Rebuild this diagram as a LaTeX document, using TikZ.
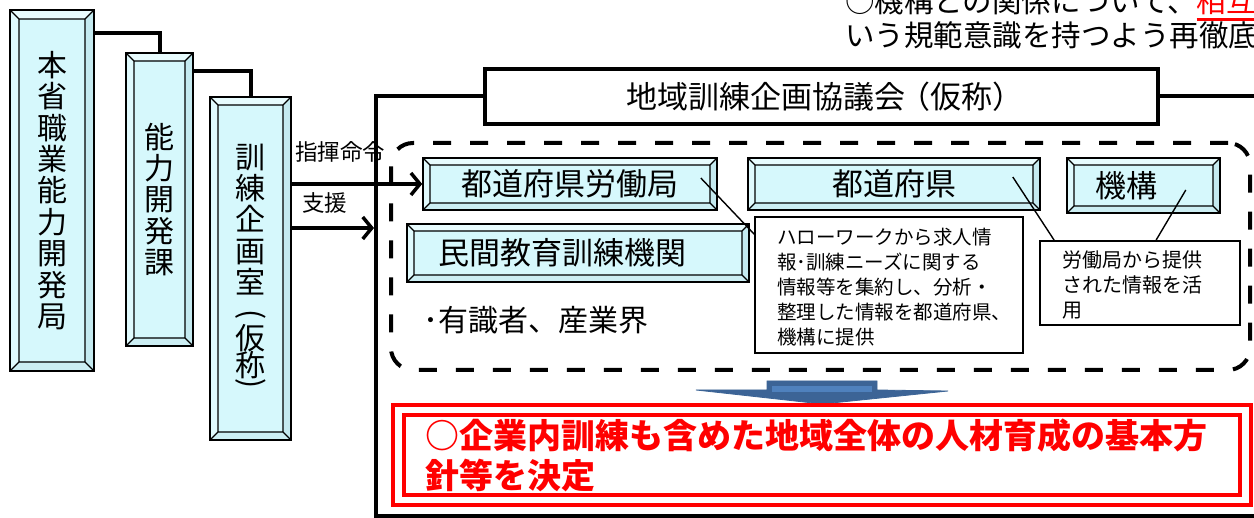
\documentclass[tikz,border=0pt]{standalone}
\usepackage{fontspec}
\setmainfont{Noto Sans CJK JP}
\usetikzlibrary{arrows.meta,calc}
\definecolor{cyanA}{RGB}{214,248,252}
\definecolor{cyanT}{RGB}{232,252,254}
\definecolor{cyanL}{RGB}{224,250,253}
\definecolor{cyanR}{RGB}{196,234,240}
\definecolor{cyanBt}{RGB}{204,238,243}
\definecolor{arrowdark}{RGB}{60,100,150}
\definecolor{arrowlight}{RGB}{79,129,189}
\newlength\ulwd
\newcommand\myul[1]{\settowidth\ulwd{#1}\rlap{\rule[-8.5pt]{\ulwd}{2.8pt}}#1}
\newcommand\vparen[1]{\rotatebox[origin=c]{-90}{#1}}
\tikzset{
  bevelbox/.style={draw=black, line width=1.6pt, fill=cyanA, inner sep=0pt,
    path picture={
      \path (path picture bounding box.north west) coordinate (bva)
            (path picture bounding box.north east) coordinate (bvb)
            (path picture bounding box.south east) coordinate (bvc)
            (path picture bounding box.south west) coordinate (bvd);
      \path ([shift={(#1,-#1)}]bva) coordinate (bvA)
            ([shift={(-#1,-#1)}]bvb) coordinate (bvB)
            ([shift={(-#1,#1)}]bvc) coordinate (bvC)
            ([shift={(#1,#1)}]bvd) coordinate (bvD);
      \fill[cyanT] (bva)--(bvb)--(bvB)--(bvA)--cycle;
      \fill[cyanR] (bvb)--(bvc)--(bvC)--(bvB)--cycle;
      \fill[cyanBt] (bvc)--(bvd)--(bvD)--(bvC)--cycle;
      \fill[cyanL] (bvd)--(bva)--(bvA)--(bvD)--cycle;
      \draw[line width=1.2pt] (bvA) rectangle (bvC) (bva)--(bvA) (bvb)--(bvB) (bvc)--(bvC) (bvd)--(bvD);
    }},
  vlabel/.style={font=\fontsize{30}{31.4}\selectfont, align=center},
  hlabel/.style={font=\fontsize{31}{36}\selectfont},
  txt/.style={inner sep=0pt, align=left},
  infobox/.style={draw=black, line width=1.8pt, fill=white, inner sep=0pt},
  conn/.style={draw=black, line width=4pt},
  callout/.style={draw=black, line width=1.4pt},
  bigarrow/.style={line width=4pt, -{Straight Barb[length=9pt,width=22pt,line width=3.5pt]}},
}
\begin{document}
\begin{tikzpicture}[x=1pt,y=-1pt]
\useasboundingbox (0,0) rectangle (1254,518);
\clip (0,0) rectangle (1254,518);
\fill[white] (0,0) rectangle (1254,518);

% top-right note (cut off)
\node[txt, anchor=west, font=\fontsize{29.5}{31.5}\selectfont] (note) at (845,18.5)
  {○機構との関係について、{\color{red}\myul{相互}}\\いう規範意識を持つよう再徹底};

% left hierarchy
\node[bevelbox=9pt, vlabel, minimum width=84pt, minimum height=361pt] (kyoku) at (52,190.5)
  {本\\省\\職\\業\\能\\力\\開\\発\\局};
\node[bevelbox=8pt, vlabel, minimum width=67pt, minimum height=293pt] (ka) at (159.5,199.5)
  {能\\力\\開\\発\\課};
\node[bevelbox=8pt, vlabel, minimum width=81pt, minimum height=343pt] (shitsu) at (250.5,268.5)
  {訓\\練\\企\\画\\室\\[-1pt]\vparen{(}\\[-6pt]仮\\[-4pt]称\\[-15pt]\vparen{)}};

\draw[conn] ($(kyoku.north east)+(0,24)$) -| (ka.north);
\draw[conn] ($(ka.north east)+(0,19)$) -| (shitsu.north);

% council frame
\node[draw=black, line width=4pt, minimum width=886pt, minimum height=420pt] (council) at (819,306) {};
\node[draw=black, line width=4pt, fill=white, minimum width=673pt, minimum height=55pt,
      font=\fontsize{31}{36}\selectfont, inner sep=0pt] (title) at (821.5,96.5) {地域訓練企画協議会\kern-6pt（仮称）\kern-6pt};

% dashed member pool
\node[draw=black, line width=4pt, dash pattern=on 18pt off 19pt, rounded corners=22pt,
      minimum width=859pt, minimum height=227pt] (pool) at (820.5,256.5) {};

\node[bevelbox=7pt, hlabel, minimum width=294pt, minimum height=52pt] (rokyoku) at (570,184) {都道府県労働局};
\node[bevelbox=7pt, hlabel, minimum width=292pt, minimum height=52pt] (pref) at (894,184) {都道府県};
\node[bevelbox=7pt, hlabel, minimum width=153pt, minimum height=55pt] (kikou) at (1143.5,185.5) {機構\hspace*{34pt}};
\node[bevelbox=7pt, hlabel, minimum width=342pt, minimum height=58pt] (minkan) at (578,253) {民間教育訓練機関\hspace*{32pt}};

\node[txt, anchor=west, font=\fontsize{30}{34}\selectfont] (experts) at (423,320) {･有識者、産業界};

\node[infobox, minimum width=268pt, minimum height=136pt] (info1) at (889,285) {};
\node[txt, anchor=west, font=\fontsize{19.5}{25}\selectfont] (info1t) at (777,287.5)
  {ハローワークから求人情\\報･訓練ニーズに関する\\情報等を集約し、分析・\\整理した情報を都道府県、\\機構に提供};
\node[infobox, minimum width=200pt, minimum height=84pt] (info2) at (1140,283) {};
\node[txt, anchor=west, font=\fontsize{20}{25}\selectfont] (info2t) at (1062,285)
  {労働局から提供\\された情報を活\\用};

\draw[callout] ($(rokyoku.east)+(-17,-6)$) -- ($(info1.north west)+(1,19)$);
\draw[callout] ($(pref.east)+(-28,-7)$) -- ($(info2.north west)+(15,0)$);
\draw[callout] ($(kikou.east)+(-35,4.5)$) -- ($(info2.north west)+(117,0)$);

% command arrows
\coordinate (sien) at (291,228);
\draw[bigarrow] (shitsu.east |- rokyoku.west) -- (rokyoku.west);
\draw[bigarrow] (sien) -- (council.west |- sien);
\node[txt, anchor=west, font=\fontsize{22.5}{26}\selectfont] (shiki) at (295,152) {指揮命令};
\node[txt, anchor=west, font=\fontsize{22.5}{26}\selectfont] (shien) at (302,203) {支援};

% block arrow
\fill[arrowdark, draw=arrowdark, line width=0.8pt]
  (767,381) -- (877,381) -- (877,390) -- (948,391) -- (822,404) -- (696,390) -- (767,390) -- cycle;
\fill[arrowlight] (772,386) rectangle (872,392);

% result
\node[draw=red, double=white, double distance=6.5pt, line width=4pt, minimum width=847pt, minimum height=90pt,
      text=red, font=\bfseries\fontsize{34}{40}\selectfont, align=left, inner sep=0pt] (result) at (822,455)
  {○企業内訓練も含めた地域全体の人材育成の基本方\hspace*{12pt}\\針等を決定};
\end{tikzpicture}
\end{document}
